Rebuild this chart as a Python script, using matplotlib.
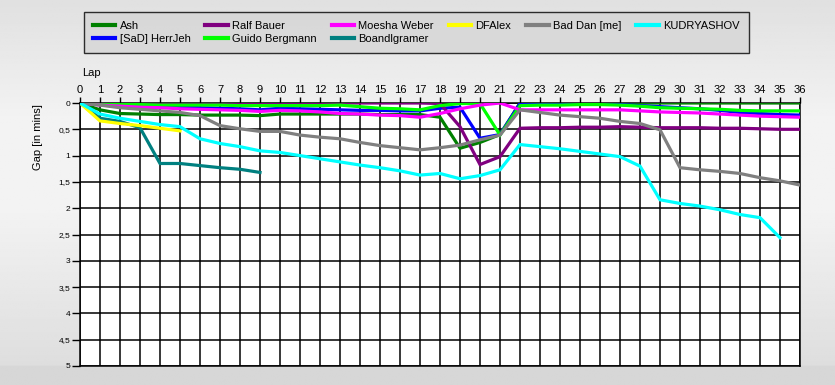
import numpy as np
import matplotlib
matplotlib.use('Agg')
import matplotlib.pyplot as plt

plt.rcParams['font.family'] = ['Liberation Sans', 'DejaVu Sans']

laps = list(range(37))

ash = [0, 0.13, 0.2, 0.21, 0.22, 0.22, 0.23, 0.23, 0.23, 0.24, 0.21, 0.21, 0.21, 0.21, 0.21,
       0.22, 0.22, 0.22, 0.27, 0.86, 0.75, 0.6, 0, 0, 0, 0, 0, 0, 0, 0, 0, 0, 0, 0, 0, 0, 0]
herrjeh = [0, 0.02, 0.04, 0.05, 0.06, 0.07, 0.09, 0.1, 0.11, 0.13, 0.1, 0.11, 0.12, 0.13, 0.14,
           0.14, 0.15, 0.15, 0.1, 0.08, 0.67, 0.6, 0.01, 0.01, 0.01, 0.01, 0.01, 0.03, 0.05, 0.07,
           0.09, 0.11, 0.14, 0.18, 0.2, 0.22, 0.23]
ralf = [0, 0, 0, 0, 0, 0, 0, 0, 0, 0, 0, 0, 0, 0, 0, 0, 0, 0, 0.01, 0.45, 1.17, 1.02, 0.48,
        0.47, 0.47, 0.46, 0.46, 0.45, 0.46, 0.47, 0.47, 0.47, 0.48, 0.48, 0.49, 0.5, 0.5]
guido = [0, 0.02, 0.03, 0.03, 0.04, 0.04, 0.04, 0.04, 0.05, 0.05, 0.05, 0.05, 0.05, 0.04, 0.07,
         0.1, 0.11, 0.13, 0.05, 0.01, 0.01, 0.61, 0.05, 0.04, 0.04, 0.03, 0.03, 0.04, 0.06, 0.09,
         0.1, 0.11, 0.12, 0.14, 0.15, 0.15, 0.15]
moesha = [0, 0.04, 0.06, 0.08, 0.09, 0.11, 0.12, 0.13, 0.14, 0.16, 0.14, 0.15, 0.17, 0.2, 0.21,
          0.23, 0.24, 0.27, 0.2, 0.11, 0.04, 0.0, 0.13, 0.13, 0.13, 0.13, 0.13, 0.13, 0.15, 0.17,
          0.18, 0.19, 0.21, 0.23, 0.25, 0.26, 0.27]
boandl = [0, 0.29, 0.35, 0.47, 1.15, 1.15, 1.19, 1.23, 1.26, 1.32] + [None] * 27
dfalex = [0, 0.34, 0.39, 0.43, 0.48, 0.53] + [None] * 31
baddan = [0, 0.04, 0.09, 0.12, 0.15, 0.18, 0.24, 0.43, 0.49, 0.54, 0.54, 0.61, 0.65, 0.68, 0.75,
          0.81, 0.85, 0.89, 0.85, 0.8, 0.7, 0.61, 0.13, 0.18, 0.23, 0.26, 0.29, 0.35, 0.39, 0.51,
          1.23, 1.27, 1.3, 1.34, 1.42, 1.48, 1.56]
kudryashov = [0, 0.21, 0.29, 0.35, 0.41, 0.45, 0.68, 0.77, 0.83, 0.91, 0.94, 1.0, 1.06, 1.12,
              1.18, 1.23, 1.29, 1.37, 1.34, 1.44, 1.38, 1.27, 0.79, 0.83, 0.87, 0.92, 0.97, 1.02,
              1.2, 1.84, 1.91, 1.96, 2.03, 2.12, 2.18, 2.56, None]

names = ['Ash', '[SaD] HerrJeh', 'Ralf Bauer', 'Guido Bergmann', 'Moesha Weber',
         'Boandlgramer', 'DFAlex', 'Bad Dan [me]', 'KUDRYASHOV']
series = [ash, herrjeh, ralf, guido, moesha, boandl, dfalex, baddan, kudryashov]
colors = ['#008000', '#0000ff', '#800080', '#00ff00', '#ff00ff',
          '#008080', '#ffff00', '#808080', '#00ffff']

yticks = [0, 0.5, 1, 1.5, 2, 2.5, 3, 3.5, 4, 4.5, 5]
ylabels = ['0', '0,5', '1', '1,5', '2', '2,5', '3', '3,5', '4', '4,5', '5']

fig = plt.figure(figsize=(8.35, 3.85), dpi=100)

# gray gradient behind everything
bg = fig.add_axes([0, 0, 1, 1], zorder=-10)
rows = np.linspace(0, 1, 200)
shade = np.interp(rows, [0, 0.3, 0.55, 0.95, 0.951, 1], [0.88, 0.95, 0.95, 0.87, 0.84, 0.84])
bg.imshow(shade[:, None] * np.ones((1, 10)), cmap='gray', vmin=0, vmax=1,
          aspect='auto', extent=[0, 1, 0, 1])
bg.axis('off')

ax = fig.add_axes([80 / 835, 1 - 366 / 385, 720 / 835, 263 / 385])
ax.set_facecolor('white')

for name, vals, c in zip(names, series, colors):
    y = np.array([np.nan if v is None else v for v in vals], dtype=float)
    ax.plot(laps, y, color=c, lw=2.3, label=name, solid_joinstyle='miter', zorder=3)

ax.set_xlim(0, 36)
ax.set_ylim(5, 0)
ax.set_xticks(laps)
ax.set_yticks(yticks)
ax.set_yticklabels(ylabels)
ax.xaxis.tick_top()
ax.tick_params(axis='x', direction='out', length=4, width=1, pad=1.5, labelsize=8)
ax.tick_params(axis='y', direction='out', length=6, width=1, pad=1, labelsize=6)
ax.grid(True, color='black', lw=1.1, zorder=1)
ax.set_axisbelow(True)
for s in ax.spines.values():
    s.set_color('black')
    s.set_linewidth(1.1)

fig.text(82 / 835, 1 - 73 / 385, 'Lap', fontsize=8, ha='left', va='center')
fig.text(38 / 835, 1 - 137 / 385, 'Gap [in mins]', fontsize=8, rotation=90,
         ha='center', va='center')

leg = fig.legend(loc='upper left', bbox_to_anchor=(84 / 835, 1 - 12 / 385), ncol=6,
                 fontsize=8, frameon=True, fancybox=False, handlelength=2.0,
                 handletextpad=0.4, columnspacing=1.35, labelspacing=0.3,
                 borderpad=0.8, borderaxespad=0)
leg.get_frame().set_edgecolor('black')
leg.get_frame().set_facecolor('#d6d6d6')
leg.get_frame().set_linewidth(1.0)
for h in leg.get_lines():
    h.set_linewidth(3)

fig.savefig('out.png', dpi=100)
